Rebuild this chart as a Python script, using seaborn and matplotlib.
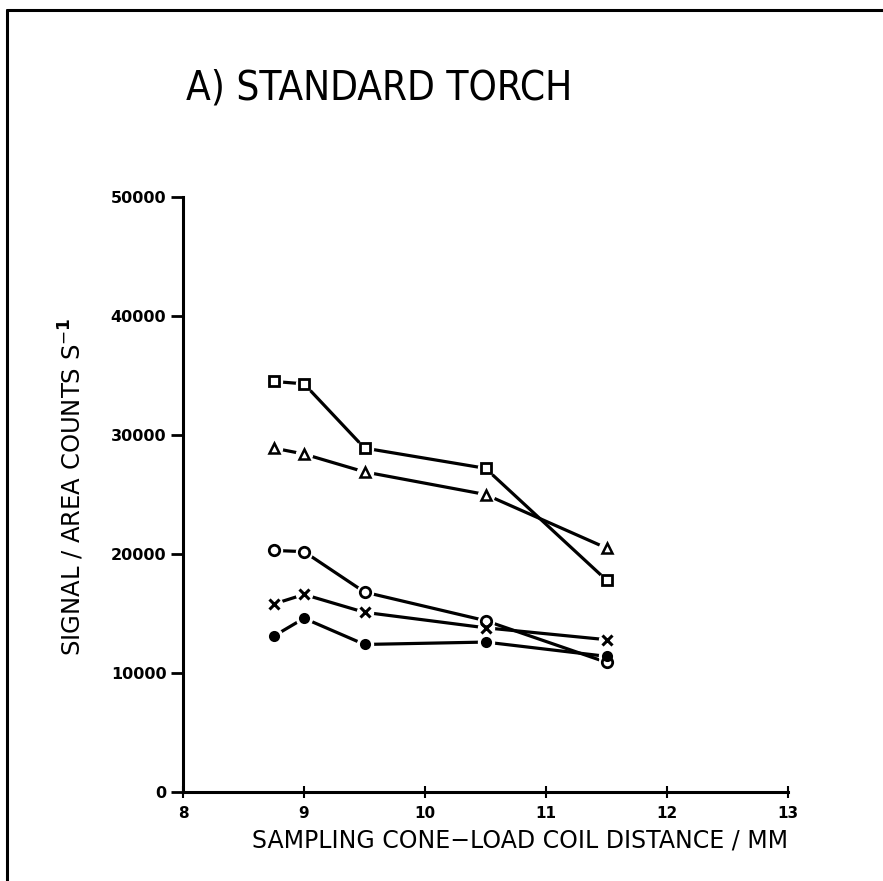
import matplotlib
matplotlib.use("Agg")
import matplotlib.pyplot as plt
import seaborn as sns
import pandas as pd
from matplotlib.lines import Line2D

sns.set_theme(style="white")
plt.rcParams["font.family"] = ["DejaVu Sans"]
plt.rcParams["text.color"] = "black"
plt.rcParams["axes.labelcolor"] = "black"
plt.rcParams["xtick.color"] = "black"
plt.rcParams["ytick.color"] = "black"

# Sampling cone - load coil distance (mm)
distance = [8.75, 9.0, 9.5, 10.5, 11.5]

# Signal / area counts per second for each element trace
sig_square = [34500, 34300, 28900, 27200, 17800]
sig_triangle = [28900, 28400, 26900, 25000, 20500]
sig_circle = [20300, 20200, 16800, 14400, 10900]
sig_cross = [15800, 16600, 15100, 13800, 12800]
sig_dot = [13100, 14600, 12400, 12600, 11400]

series_names = ["square", "triangle", "circle", "cross", "dot"]
series_values = [sig_square, sig_triangle, sig_circle, sig_cross, sig_dot]

x_ticks = [8, 9, 10, 11, 12, 13]
y_ticks = [0, 10000, 20000, 30000, 40000, 50000]

rows = []
for name, vals in zip(series_names, series_values):
    for d, v in zip(distance, vals):
        rows.append({"distance": d, "signal": v, "series": name})
df = pd.DataFrame(rows)

fig = plt.figure(figsize=(8.83, 8.81), dpi=100)
ax = fig.add_axes([0.2073, 0.101, 0.6851, 0.6754])

marker_style = {
    "square": dict(marker="s", ms=7.5, mfc="white", mew=2.0),
    "triangle": dict(marker="^", ms=7.0, mfc="white", mew=1.8),
    "circle": dict(marker="o", ms=7.5, mfc="white", mew=2.0),
    "cross": dict(marker="x", ms=6.5, mfc="black", mew=2.2),
    "dot": dict(marker="o", ms=6.5, mfc="black", mew=1.5),
}

# connecting lines
sns.lineplot(data=df, x="distance", y="signal", units="series", estimator=None,
             color="black", linewidth=2.3, ax=ax, legend=False, zorder=2)

# white halo around each marker to leave a small gap in the line
for name in series_names:
    sub = df[df["series"] == name]
    ax.plot(sub["distance"], sub["signal"], ls="none", marker="o", ms=11.5,
            mfc="white", mec="white", zorder=3)
    st = marker_style[name]
    ax.plot(sub["distance"], sub["signal"], ls="none", marker=st["marker"],
            ms=st["ms"], mfc=st["mfc"], mec="black", mew=st["mew"], zorder=4)

ax.set_xlim(8, 13)
ax.set_ylim(0, 50000)
ax.set_xticks(x_ticks)
ax.set_yticks(y_ticks)
ax.set_xticklabels([str(t) for t in x_ticks], fontsize=11, fontweight="bold")
ax.set_yticklabels([str(t) for t in y_ticks], fontsize=11.5, fontweight="bold")

for side in ["top", "right"]:
    ax.spines[side].set_visible(False)
for side in ["left", "bottom"]:
    ax.spines[side].set_color("black")
    ax.spines[side].set_linewidth(2.2)

ax.tick_params(axis="y", direction="out", length=9, width=2, pad=3, left=True)
ax.tick_params(axis="x", direction="inout", length=8, width=1.5, pad=6, bottom=True)
ax.grid(False)
ax.set_facecolor("white")

ax.set_xlabel("SAMPLING CONE\u2212LOAD COIL DISTANCE / MM", fontsize=17, labelpad=3)
ax.xaxis.set_label_coords(0.557, -0.062)
ax.set_ylabel("SIGNAL / AREA COUNTS S$^{\u2212\\mathbf{1}}$", fontsize=17.5)
ax.yaxis.set_label_coords(-0.16, 0.513)

fig.text(0.2106, 0.900, "A) STANDARD TORCH", fontsize=29, ha="left", va="center",
         family="DejaVu Sans", fontstretch="condensed")

# page frame along the top and left edges
fig.add_artist(Line2D([0.008, 1.0], [0.9885, 0.9885], color="black", lw=2.2,
                      transform=fig.transFigure))
fig.add_artist(Line2D([0.008, 0.008], [0.0, 0.9885], color="black", lw=2.2,
                      transform=fig.transFigure))

fig.savefig("out.png", dpi=100, facecolor="white")
